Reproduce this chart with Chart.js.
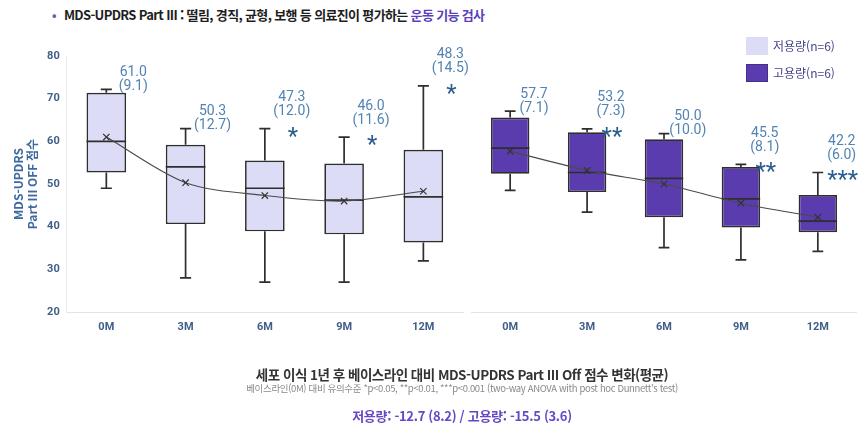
<!DOCTYPE html>
<html lang="ko">
<head>
<meta charset="utf-8">
<title>MDS-UPDRS Part III</title>
<script src="https://cdn.jsdelivr.net/npm/chart.js@4.4.1/dist/chart.umd.min.js"></script>
<style>
  body { margin: 0; background: #fff; }
  #wrap { position: relative; width: 862px; height: 431px; overflow: hidden;
          font-family: "Noto Sans CJK KR", "Noto Sans", sans-serif; }
  #wrap canvas { position: absolute; left: 0; top: 0; }
  .head { position: absolute; left: 52px; top: 5px; font-size: 13px; font-weight: 700;
          color: #1e1e1e; white-space: nowrap; letter-spacing: -0.65px; }
  .head .dot { color: #6b55c4; margin-right: 8px; font-size: 12px; }
  .head .hl { color: #5b3fbe; }
  .legend { position: absolute; left: 746px; font-size: 12px; color: #45458a; white-space: nowrap; }
  .legend i { position: absolute; left: 0; width: 22px; height: 18px; }
  .legend span { position: absolute; left: 27px; line-height: 18px; }
  .center { position: absolute; left: 462px; transform: translateX(-50%); white-space: nowrap; text-align: center; }
  .cap1 { top: 364px; font-size: 13.5px; font-weight: 700; color: #333; letter-spacing: -0.5px; }
  .cap2 { top: 381px; font-size: 9.5px; color: #8a8a8a; letter-spacing: -0.35px; }
  .cap3 { top: 406px; font-size: 13px; font-weight: 700; color: #6548c6; letter-spacing: -0.3px; }
</style>
</head>
<body>
<div id="wrap">
  <div class="head"><span class="dot">•</span>MDS-UPDRS Part III : 떨림, 경직, 균형, 보행 등 의료진이 평가하는 <span class="hl">운동 기능 검사</span></div>
  <canvas id="lowChart" width="862" height="431"></canvas>
  <canvas id="highChart" width="862" height="431"></canvas>
  <div class="legend" style="top:37px"><i style="background:#dcdcf7"></i><span>저용량(n=6)</span></div>
  <div class="legend" style="top:64px"><i style="background:#5a3cae;box-shadow:inset 0 0 0 1px #44308a"></i><span>고용량(n=6)</span></div>
  <div class="center cap1">세포 이식 1년 후 베이스라인 대비 MDS-UPDRS Part III Off 점수 변화(평균)</div>
  <div class="center cap2">베이스라인(0M) 대비 유의수준 *p&lt;0.05, **p&lt;0.01, ***p&lt;0.001 (two-way ANOVA with post hoc Dunnett's test)</div>
  <div class="center cap3">저용량: -12.7 (8.2) / 고용량: -15.5 (3.6)</div>
</div>
<script>
// Visits
const months = ['0M', '3M', '6M', '9M', '12M'];

// Low dose (n=6): box statistics per visit
const lowMin    = [49.0, 28.0, 27.0, 27.0, 32.0];
const lowQ1     = [52.7, 40.6, 38.9, 38.2, 36.3];
const lowMedian = [60.0, 54.0, 49.0, 46.2, 47.0];
const lowQ3     = [71.4, 59.2, 55.5, 54.8, 58.0];
const lowMax    = [72.2, 63.0, 63.0, 61.0, 73.0];
const lowMean   = [61.0, 50.3, 47.3, 46.0, 48.3];
const lowSD     = [9.1, 12.7, 12.0, 11.6, 14.5];
const lowSig    = ['', '', '*', '*', '*'];

// High dose (n=6): box statistics per visit
const highMin    = [48.5, 43.4, 35.1, 32.2, 34.2];
const highQ1     = [52.4, 48.1, 42.2, 39.8, 38.7];
const highMedian = [58.4, 52.7, 51.3, 46.5, 41.3];
const highQ3     = [65.6, 62.1, 60.5, 54.0, 47.4];
const highMax    = [67.1, 62.9, 61.8, 54.6, 52.7];
const highMean   = [57.7, 53.2, 50.0, 45.5, 42.2];
const highSD     = [7.1, 7.3, 10.0, 8.1, 6.0];
const highSig    = ['', '**', '', '**', '***'];

// y-axis
const yMin = 20, yMax = 80, yStep = 10;

// Median line and whiskers, drawn right after the box (bar) dataset
const boxWhiskers = {
  id: 'boxWhiskers',
  afterDatasetDraw(chart, args, opts) {
    if (args.index !== 0) return;
    const { ctx } = chart;
    const y = chart.scales.y;
    ctx.save();
    ctx.strokeStyle = '#2e2e2e';
    ctx.lineWidth = 1.7;
    args.meta.data.forEach((bar, i) => {
      const cx = bar.x, half = bar.width / 2, cap = bar.width * 0.14;
      const pMed = y.getPixelForValue(opts.median[i]);
      const pQ1 = y.getPixelForValue(opts.q1[i]);
      const pQ3 = y.getPixelForValue(opts.q3[i]);
      const pMin = y.getPixelForValue(opts.min[i]);
      const pMax = y.getPixelForValue(opts.max[i]);
      ctx.beginPath();
      ctx.moveTo(cx - half, pMed); ctx.lineTo(cx + half, pMed);
      ctx.moveTo(cx, pQ3); ctx.lineTo(cx, pMax);
      ctx.moveTo(cx - cap, pMax); ctx.lineTo(cx + cap, pMax);
      ctx.moveTo(cx, pQ1); ctx.lineTo(cx, pMin);
      ctx.moveTo(cx - cap, pMin); ctx.lineTo(cx + cap, pMin);
      ctx.stroke();
    });
    ctx.restore();
  }
};

// Mean (SD) labels and significance stars beside each box
const meanLabels = {
  id: 'meanLabels',
  afterDraw(chart, args, opts) {
    const { ctx } = chart;
    const x = chart.scales.x, y = chart.scales.y;
    const shift = x.width / months.length * opts.shift;
    ctx.save();
    months.forEach((m, i) => {
      const lx = x.getPixelForValue(i) + shift;
      const top = y.getPixelForValue(opts.max[i]);
      let line2;
      if (opts.sig[i]) {
        const starY = top + 3;
        ctx.font = '24px Roboto';
        ctx.fillStyle = '#2c5c8e';
        ctx.textAlign = 'center';
        ctx.textBaseline = 'alphabetic';
        const mt = ctx.measureText(opts.sig[i]);
        const base = starY + (mt.actualBoundingBoxAscent - mt.actualBoundingBoxDescent) / 2;
        ctx.fillText(opts.sig[i], lx + 1, base);
        line2 = starY - 20;
      } else {
        line2 = top - 3;
      }
      ctx.font = '14px Roboto';
      ctx.fillStyle = '#5283b3';
      ctx.textAlign = 'center';
      ctx.textBaseline = 'middle';
      ctx.fillText(opts.mean[i].toFixed(1), lx, line2 - 14);
      ctx.fillText('(' + opts.sd[i].toFixed(1) + ')', lx, line2);
    });
    ctx.restore();
  }
};

function makeChart(id, cfg) {
  const showY = cfg.showY;
  return new Chart(document.getElementById(id), {
    data: {
      labels: months,
      datasets: [
        {
          type: 'bar',
          data: cfg.q1.map((v, i) => [v, cfg.q3[i]]),
          backgroundColor: cfg.fill,
          borderColor: '#2e2e2e',
          borderWidth: 1.7,
          borderSkipped: false,
          barPercentage: 0.5,
          categoryPercentage: 1,
          order: 2
        },
        {
          type: 'line',
          data: cfg.mean,
          borderColor: '#4a4a4a',
          borderWidth: 1.1,
          tension: 0.3,
          fill: false,
          pointStyle: 'crossRot',
          pointRadius: 4.5,
          pointBorderColor: '#333',
          pointBorderWidth: 1.2,
          order: 1
        }
      ]
    },
    options: {
      responsive: false,
      animation: false,
      devicePixelRatio: 1,
      layout: { padding: cfg.padding },
      scales: {
        x: {
          grid: { display: false, drawTicks: false },
          border: { display: true, color: '#e4e4e4', width: 1 },
          ticks: { color: '#3f5f88', font: { family: 'Roboto', size: 11, weight: 'bold' }, padding: 9 },
          afterFit(s) { s.height = 30; }
        },
        y: {
          display: showY,
          min: yMin, max: yMax,
          grid: { display: false, drawTicks: false },
          border: { display: showY, color: '#ececec', width: 1 },
          ticks: { stepSize: yStep, color: '#3f5f88', font: { family: 'Roboto', size: 11, weight: 'bold' }, padding: 7 },
          title: {
            display: showY,
            text: ['MDS-UPDRS', 'Part III OFF 점수'],
            color: '#3d6a9e',
            font: { family: '"Noto Sans CJK KR", Roboto', size: 12, weight: 'bold' },
            padding: { top: 11, bottom: 0 }
          },
          afterFit(s) { if (showY) s.width = 66.7; }
        }
      },
      plugins: {
        legend: { display: false },
        tooltip: { enabled: false },
        boxWhiskers: { min: cfg.min, q1: cfg.q1, median: cfg.median, q3: cfg.q3, max: cfg.max },
        meanLabels: { max: cfg.max, mean: cfg.mean, sd: cfg.sd, sig: cfg.sig, shift: cfg.shift }
      }
    },
    plugins: [boxWhiskers, meanLabels]
  });
}

makeChart('lowChart', {
  showY: true,
  padding: { left: 0, top: 56, right: 399, bottom: 89 },
  fill: '#dcdcf7',
  min: lowMin, q1: lowQ1, median: lowMedian, q3: lowQ3, max: lowMax,
  mean: lowMean, sd: lowSD, sig: lowSig, shift: 0.34
});

makeChart('highChart', {
  showY: false,
  padding: { left: 471.7, top: 56, right: 0.3, bottom: 89 },
  fill: '#5a3cae',
  min: highMin, q1: highQ1, median: highMedian, q3: highQ3, max: highMax,
  mean: highMean, sd: highSD, sig: highSig, shift: 0.31
});
</script>
</body>
</html>
